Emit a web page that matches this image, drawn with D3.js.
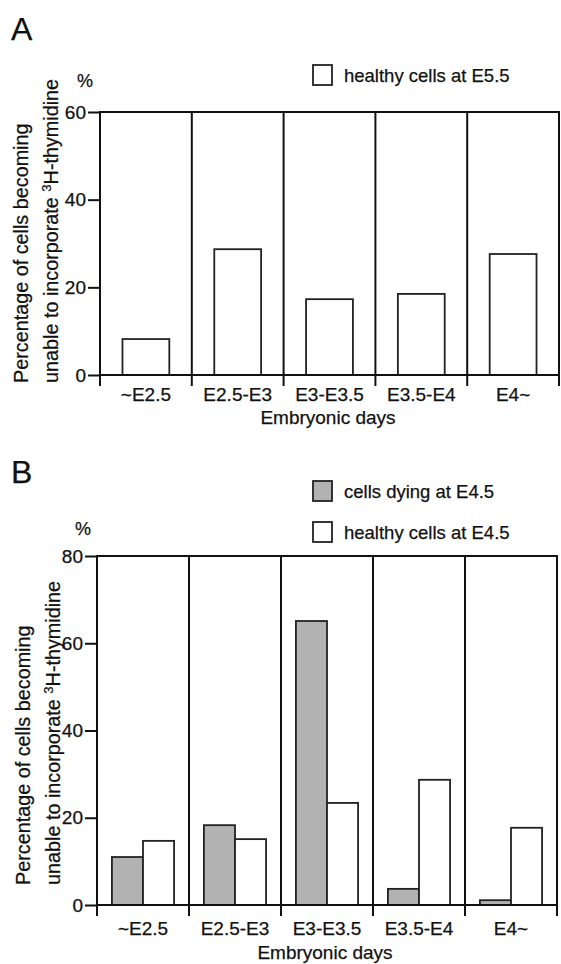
<!DOCTYPE html>
<html>
<head>
<meta charset="utf-8">
<script src="https://cdn.jsdelivr.net/npm/d3@7/dist/d3.min.js"></script>
<style>
  body { margin: 0; background: #fff; }
  svg { display: block; font-family: 'Liberation Sans', Arial, sans-serif; }
  text { fill: #111; stroke: #111; stroke-width: 0.25; }
</style>
</head>
<body>
<div id="canvas"></div>
<script>
// data
const categories = ['~E2.5', 'E2.5-E3', 'E3-E3.5', 'E3.5-E4', 'E4~'];
const healthyE55 = [8.2, 28.7, 17.3, 18.5, 27.6];
const dyingE45 = [11.0, 18.3, 65.1, 3.7, 1.1];
const healthyE45 = [14.7, 15.1, 23.4, 28.7, 17.7];
const ticksA = [0, 20, 40, 60];
const ticksB = [0, 20, 40, 60, 80];
const legendA = ['healthy cells at E5.5'];
const legendB = ['cells dying at E4.5', 'healthy cells at E4.5'];

const w = 561;
const h = 964;
const ink = '#111';
const grey = '#b2b2b2';

const svg = d3.select('#canvas')
  .append('svg')
  .attr('width', w)
  .attr('height', h);

function drawPanel(p) {
  const g = svg.append('g');

  const xScale = d3.scaleBand()
    .domain(categories)
    .range([p.left, p.right])
    .padding(0);

  const yScale = d3.scaleLinear()
    .domain([0, d3.max(p.ticks)])
    .range([p.zero, p.top]);

  const x1 = d3.scaleBand()
    .domain(p.series.map((s, i) => i))
    .range([0, xScale.bandwidth()])
    .paddingInner(0)
    .paddingOuter(0.48);

  // bars
  p.series.forEach((s, si) => {
    g.selectAll(null)
      .data(s.values)
      .enter()
      .append('rect')
      .attr('x', (d, i) => xScale(categories[i]) + x1(si))
      .attr('y', d => yScale(d))
      .attr('width', x1.bandwidth())
      .attr('height', d => yScale(0) - yScale(d))
      .attr('fill', s.fill)
      .attr('stroke', '#222')
      .attr('stroke-width', 1.8);
  });

  // y axis ticks and labels
  const yAxis = d3.axisLeft(yScale)
    .tickValues(p.ticks)
    .tickSize(12)
    .tickPadding(2);

  const ya = g.append('g')
    .attr('transform', 'translate(' + p.left + ', 0)')
    .call(yAxis);
  ya.select('.domain').remove();
  ya.selectAll('line').attr('stroke', ink).attr('stroke-width', 2);
  ya.selectAll('text')
    .attr('font-size', 19)
    .attr('font-family', "'Liberation Sans', Arial, sans-serif")
    .attr('fill', ink);

  // frame: top line, zero line, dividers
  g.append('line')
    .attr('x1', p.left).attr('x2', p.right)
    .attr('y1', yScale(d3.max(p.ticks))).attr('y2', yScale(d3.max(p.ticks)))
    .attr('stroke', ink).attr('stroke-width', 2);
  g.append('line')
    .attr('x1', p.left).attr('x2', p.right)
    .attr('y1', yScale(0)).attr('y2', yScale(0))
    .attr('stroke', ink).attr('stroke-width', 2);

  const edges = categories.map(c => xScale(c)).concat([p.right]);
  g.selectAll(null)
    .data(edges)
    .enter()
    .append('line')
    .attr('x1', d => d).attr('x2', d => d)
    .attr('y1', yScale(d3.max(p.ticks)) - 1)
    .attr('y2', yScale(0) + 11)
    .attr('stroke', ink)
    .attr('stroke-width', 2);

  // category labels
  g.selectAll(null)
    .data(categories)
    .enter()
    .append('text')
    .attr('x', d => xScale(d) + xScale.bandwidth() / 2)
    .attr('y', p.labelY)
    .attr('text-anchor', 'middle')
    .attr('font-size', 19)
    .text(d => d);

  g.append('text')
    .attr('x', p.xTitleX)
    .attr('y', p.xTitleY)
    .attr('text-anchor', 'middle')
    .attr('font-size', 19)
    .text('Embryonic days');

  // % unit
  g.append('text')
    .attr('x', p.pctX)
    .attr('y', p.pctY)
    .attr('text-anchor', 'middle')
    .attr('font-size', 18)
    .text('%');

  // y title, two lines
  g.append('text')
    .attr('transform', 'translate(' + p.yTitleX1 + ', ' + p.yTitleY + ') rotate(-90)')
    .attr('font-size', 19.8)
    .text('Percentage of cells becoming');

  const t2 = g.append('text')
    .attr('transform', 'translate(' + p.yTitleX2 + ', ' + p.yTitleY + ') rotate(-90)')
    .attr('font-size', 19.8);
  t2.append('tspan').text('unable to incorporate ');
  t2.append('tspan').attr('font-size', 13).attr('dy', -7).text('3');
  t2.append('tspan').attr('dy', 7).text('H-thymidine');

  // panel letter
  g.append('text')
    .attr('x', 11)
    .attr('y', p.letterY)
    .attr('font-size', 32)
    .text(p.letter);

  // legend
  p.series.forEach((s, k) => {
    const ly = p.legendY[k];
    g.append('rect')
      .attr('x', 313).attr('y', ly - 17)
      .attr('width', 19).attr('height', 20)
      .attr('fill', s.fill)
      .attr('stroke', '#222')
      .attr('stroke-width', 1.8);
    g.append('text')
      .attr('x', 344).attr('y', ly)
      .attr('font-size', 18.5)
      .text(s.name);
  });
}

drawPanel({
  letter: 'A', letterY: 40,
  left: 100, right: 559, top: 112, zero: 375,
  ticks: ticksA,
  series: [{ name: legendA[0], values: healthyE55, fill: '#fff' }],
  labelY: 401, xTitleX: 328, xTitleY: 424,
  pctX: 85, pctY: 87,
  yTitleX1: 28, yTitleX2: 58, yTitleY: 383,
  legendY: [82]
});

drawPanel({
  letter: 'B', letterY: 483,
  left: 97, right: 557, top: 556, zero: 905,
  ticks: ticksB,
  series: [
    { name: legendB[0], values: dyingE45, fill: grey },
    { name: legendB[1], values: healthyE45, fill: '#fff' }
  ],
  labelY: 935, xTitleX: 325, xTitleY: 959,
  pctX: 83, pctY: 535,
  yTitleX1: 30, yTitleX2: 60, yTitleY: 885,
  legendY: [498, 539]
});
</script>
</body>
</html>
